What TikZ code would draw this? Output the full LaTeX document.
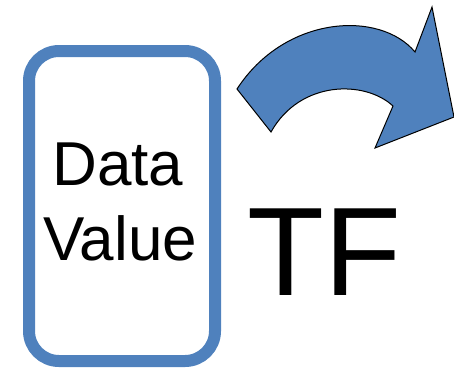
\documentclass[tikz,border=0pt]{standalone}
\usepackage{fontspec}
\setmainfont{Liberation Sans}
\definecolor{boxblue}{HTML}{4F81BD}
\begin{document}
\begin{tikzpicture}[x=1pt,y=-1pt,
  valuebox/.style={draw=boxblue,line width=12pt,rounded corners=30pt},
  bigword/.style={inner sep=0pt,anchor=base,text=black}]
\useasboundingbox (0,0) rectangle (454,368);
% rounded frame holding the value
\draw[valuebox] (29,51) rectangle (215,361);
\node[bigword,font=\fontsize{62}{74}\selectfont] (data) at (118,185) {Data};
\node[bigword,font=\fontsize{62}{74}\selectfont] (value) at (120,260) {Value};
% transfer function label
\node[bigword,font=\fontsize{126}{140}\selectfont] (tf) at (324,295) {TF};
% curved block arrow
\draw[fill=boxblue,draw=black,line width=1pt,line join=miter]
  (237,89) .. controls (285,15) and (380,10) .. (415,52)
  -- (432,7) -- (454,117) -- (375,148) -- (393,106)
  .. controls (365,80) and (300,80) .. (271,132) -- cycle;
\end{tikzpicture}
\end{document}
